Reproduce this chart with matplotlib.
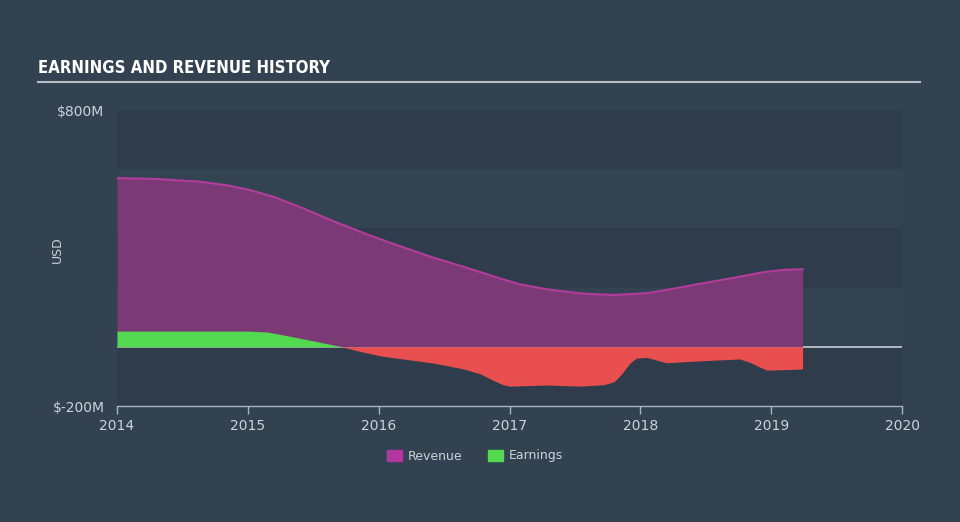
import matplotlib
matplotlib.use("Agg")
import matplotlib.pyplot as plt
import numpy as np
from matplotlib.patches import Patch

rev_x = [2014.0, 2014.3, 2014.63, 2014.85, 2015.02, 2015.2, 2015.4, 2015.65, 2015.91, 2016.15, 2016.42, 2016.6,
         2016.78, 2016.95, 2017.08, 2017.29, 2017.55, 2017.79, 2018.05, 2018.25, 2018.43, 2018.7, 2018.94, 2019.1, 2019.24]
rev_y = [570, 567, 558, 545, 529, 506, 472, 425, 380, 342, 301, 277, 252, 228, 211, 194, 180, 175, 181, 196, 211, 232,
         252, 260, 262]

earn_x = [2014.0, 2014.5, 2015.0, 2015.15, 2015.27, 2015.5, 2015.7, 2015.85, 2016.03, 2016.42, 2016.65, 2016.78,
          2016.87, 2016.95, 2017.0, 2017.29, 2017.54, 2017.72, 2017.8, 2017.86, 2017.92, 2017.97, 2018.05, 2018.2,
          2018.43, 2018.76, 2018.84, 2018.92, 2018.97, 2019.24]
earn_y = [53, 53, 53, 50, 40, 20, 2, -15, -32, -55, -75, -92, -112, -128, -133, -129, -133, -128, -118, -90, -55,
          -38, -36, -54, -48, -41, -53, -70, -79, -75]

y_ticks = [-200, 800]
y_ticklabels = ["$-200M", "$800M"]
x_ticks = [2014, 2015, 2016, 2017, 2018, 2019, 2020]

BG = "#334251"
TXT = "#cdd2d7"
fig = plt.figure(figsize=(9.6, 5.22), dpi=100, facecolor=BG)
ax = fig.add_axes([117/960, (522-406)/522, (902-117)/960, (406-110)/522])
ax.set_facecolor(BG)
ax.set_xlim(2014, 2020)
ax.set_ylim(-200, 800)

DARK, LIGHT = "#2e3c4b", "#334352"
for lo, col in zip([-200, 0, 200, 400, 600], [DARK, LIGHT, DARK, LIGHT, DARK]):
    ax.axhspan(lo, lo + 200, color=col, lw=0, zorder=0)

ax.axhline(0, color="#c9ced3", lw=1.2, zorder=1.5)

rx = np.array(rev_x); ry = np.array(rev_y)
ax.fill_between(rx, 0, ry, color="#7b3976", lw=0, zorder=2)
ax.plot(rx, ry, color="#b33c9c", lw=1.5, zorder=3)

ex = np.array(earn_x); ey = np.array(earn_y)
ax.fill_between(ex, 0, ey, where=ey >= 0, interpolate=True, color="#52d94f", lw=0, zorder=4)
ax.fill_between(ex, 0, ey, where=ey <= 0, interpolate=True, color="#e94f4f", lw=0, zorder=4)

for s in ["top", "right", "left"]:
    ax.spines[s].set_visible(False)
ax.spines["bottom"].set_color("#aab4be")
ax.spines["bottom"].set_linewidth(1)

ax.set_xticks(x_ticks)
ax.set_xticklabels([str(t) for t in x_ticks], fontsize=10)
ax.tick_params(axis="x", colors="#aab4be", length=6, width=1, labelcolor=TXT, pad=3)
ax.set_yticks(y_ticks)
ax.set_yticklabels(y_ticklabels, fontsize=10)
ax.tick_params(axis="y", length=0, pad=9, labelcolor=TXT)

fig.text(57/960, 1 - 250/522, "USD", rotation=90, color=TXT, fontsize=9, ha="center", va="center")

fig.text(38/960, 1 - 68/522, "EARNINGS AND REVENUE HISTORY", color="white", fontsize=12, fontweight="bold",
         family=["DejaVu Sans"], fontstretch="condensed", ha="left", va="center")
fig.add_artist(plt.Line2D([38/960, 920/960], [1 - 82/522, 1 - 82/522], color="#b8bec4", lw=1.5))

handles = [Patch(color="#b0379f", label="Revenue"), Patch(color="#52d94f", label="Earnings")]
fig.legend(handles=handles, loc="center", bbox_to_anchor=(475/960, 1 - 456/522), ncol=2, frameon=False,
           fontsize=9, labelcolor=TXT, handlelength=1.2, handleheight=1.0, columnspacing=2.0, handletextpad=0.5)

fig.savefig("out.png", dpi=100, facecolor=BG)
